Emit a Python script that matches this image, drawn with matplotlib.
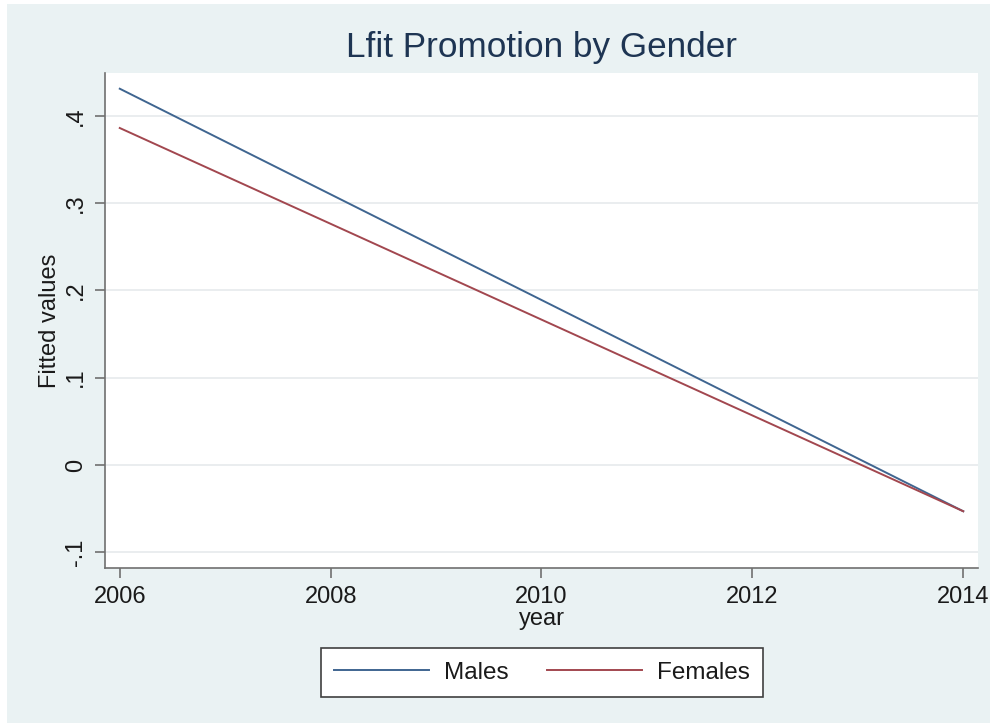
import matplotlib
matplotlib.use("Agg")
import matplotlib.pyplot as plt
from matplotlib.patches import Rectangle

plt.rcParams['font.family'] = ['Liberation Sans', 'DejaVu Sans']

years = [2006, 2014]
males = [0.431, -0.053]
females = [0.386, -0.053]
series_labels = ["Males", "Females"]
yticks = [-0.1, 0.0, 0.1, 0.2, 0.3, 0.4]
ytick_labels = ["-.1", "0", ".1", ".2", ".3", ".4"]
xticks = [2006, 2008, 2010, 2012, 2014]

W, H = 995, 727
fig = plt.figure(figsize=(W / 100, H / 100), dpi=100)
fig.patch.set_facecolor("white")
fig.patches.append(Rectangle((7 / W, 4 / H), (990 - 7) / W, (723 - 4) / H,
                             transform=fig.transFigure, facecolor="#EAF2F3",
                             edgecolor="none", zorder=-10))

ax = fig.add_axes([105 / W, 1 - 568 / H, 873 / W, 495 / H])
ax.set_facecolor("white")

male_c = "#3F6590"
fem_c = "#A2474F"
ax.plot(years, males, color=male_c, lw=1.4, label=series_labels[0], zorder=3)
ax.plot(years, females, color=fem_c, lw=1.4, label=series_labels[1], zorder=3)

ax.set_xlim(2005.86, 2014.14)
ax.set_ylim(-0.118, 0.449)
ax.set_yticks(yticks)
ax.set_yticklabels(ytick_labels, rotation=90, va="center")
ax.set_xticks(xticks)
ax.set_xticklabels([str(x) for x in xticks])
ax.grid(axis="y", color="#E6EAEC", lw=1.2, zorder=0)
ax.grid(axis="x", visible=False)

for s in ["top", "right"]:
    ax.spines[s].set_visible(False)
for s in ["left", "bottom"]:
    ax.spines[s].set_color("#707070")
    ax.spines[s].set_linewidth(1.2)
ax.tick_params(axis="both", colors="#707070", labelcolor="#1A1A1A",
               length=7, width=1.2, labelsize=17, pad=6)

ax.set_xlabel("year", fontsize=17, color="#1A1A1A", labelpad=0)
ax.set_ylabel("Fitted values", fontsize=17, color="#1A1A1A", labelpad=3)

fig.text(541.5 / W, 1 - 48 / H, "Lfit Promotion by Gender", ha="center",
         va="center", fontsize=25.3, color="#1E3553")

leg = fig.legend(loc="center", bbox_to_anchor=(542 / W, 1 - 672.5 / H),
                 ncol=2, fontsize=17.5, frameon=True, fancybox=False,
                 framealpha=1, facecolor="white",
                 handlelength=3.9, handletextpad=0.6, columnspacing=1.6,
                 borderpad=0.55, borderaxespad=0)
leg.get_frame().set_edgecolor("#404040")
leg.get_frame().set_linewidth(1.2)
for t in leg.get_texts():
    t.set_color("#1A1A1A")

fig.savefig("out.png", dpi=100, facecolor=fig.get_facecolor())
